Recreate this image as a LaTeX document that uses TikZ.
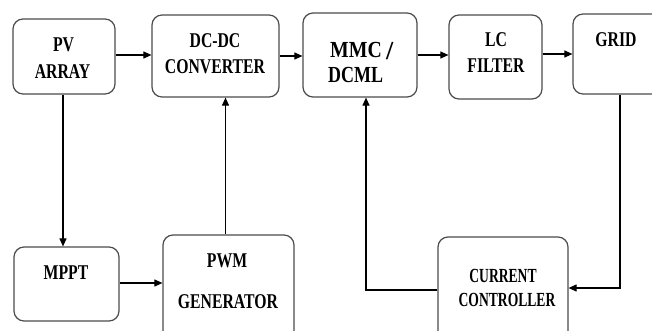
\documentclass[tikz,border=0pt]{standalone}
\usepackage{fontspec}
\usepackage{graphicx}
\setmainfont{Liberation Serif}
\usetikzlibrary{arrows.meta}
\newcommand{\sq}[1]{\scalebox{0.75}[1]{#1}}
\tikzset{
  blk/.style={draw=black!70, line width=1.2pt, rounded corners=10pt, rectangle, inner sep=0pt, fill=white},
  lbl/.style={anchor=base, inner sep=0pt, font=\fontsize{21}{21}\selectfont\bfseries},
  lblbig/.style={anchor=base west, inner sep=0pt, font=\fontsize{23}{23}\selectfont\bfseries},
  lblsm/.style={anchor=base, inner sep=0pt, font=\fontsize{20}{20}\selectfont\bfseries},
  conn/.style={draw=black, line width=1.1pt},
  arr/.style={conn, -{Triangle[length=8pt,width=7pt]}}
}
\begin{document}
\begin{tikzpicture}[x=1pt,y=-1pt]
\useasboundingbox (0,0) rectangle (652,331);
\clip (0,0) rectangle (652,331);
% boxes
\node[blk, minimum width=102pt, minimum height=75pt] (pv) at (64,56.5) {};
\node[blk, minimum width=127pt, minimum height=82pt] (dc) at (215.5,56) {};
\node[blk, minimum width=114pt, minimum height=84pt] (mmc) at (360,55) {};
\node[blk, minimum width=93pt, minimum height=84pt] (lc) at (495.5,57) {};
\node[blk, minimum width=127pt, minimum height=80pt] (grid) at (636.5,54) {};
\node[blk, minimum width=105pt, minimum height=74pt] (mppt) at (66.5,284) {};
\node[blk, minimum width=131pt, minimum height=110pt] (pwm) at (228.5,290) {};
\node[blk, minimum width=130pt, minimum height=108pt] (cc) at (503,291) {};
% texts
\node[lbl] (t1) at (63.5,52) {\sq{PV}};
\node[lbl] (t2) at (62.5,79) {\sq{ARRAY}};
\node[lbl] (t3) at (215,48) {\sq{DC-DC}};
\node[lbl] (t4) at (215,74) {\sq{CONVERTER}};
\node[lblbig] (t5) at (330,58) {\scalebox{0.86}[1]{MMC}};
\node[lblbig, font=\fontsize{26}{26}\selectfont\bfseries] (t5b) at (386,60) {/};
\node[lblbig] (t6) at (328,83) {\scalebox{0.78}[1]{DCML}};
\node[lbl] (t7) at (496,47) {\sq{LC}};
\node[lbl] (t8) at (496,73) {\sq{FILTER}};
\node[lbl] (t9) at (616,47) {\sq{GRID}};
\node[lbl] (t10) at (66,279) {\sq{MPPT}};
\node[lbl] (t11) at (227,267) {\sq{PWM}};
\node[lbl] (t12) at (228,308) {\sq{GENERATOR}};
\node[lblsm] (t13) at (503,282) {\scalebox{0.68}[1]{CURRENT}};
\node[lblsm] (t14) at (507,306) {\scalebox{0.68}[1]{CONTROLLER}};
% connectors
\draw[arr] ([yshift=1.5pt]pv.east) -- ([yshift=1.5pt]pv.east -| dc.west);
\draw[arr] (dc.east) -- (dc.east -| mmc.west);
\draw[arr] (mmc.east) -- (mmc.east -| lc.west);
\draw[arr] ([yshift=3pt]lc.east) -- ([yshift=3pt]lc.east -| grid.west);
\draw[arr] ([xshift=-1pt]pv.south) -- ([xshift=-1pt]pv.south |- mppt.north);
\draw[arr] ([yshift=1pt]mppt.east) -- ([yshift=1pt]mppt.east -| pwm.west);
\draw[arr] ([xshift=-3pt]pwm.north) -- ([xshift=-3pt]pwm.north |- dc.south);
\draw[arr] ([xshift=-16.5pt]grid.south) |- ([yshift=3pt]cc.east);
\draw[arr] ([yshift=1pt]cc.west) -| ([xshift=6pt]mmc.south);
\end{tikzpicture}
\end{document}
